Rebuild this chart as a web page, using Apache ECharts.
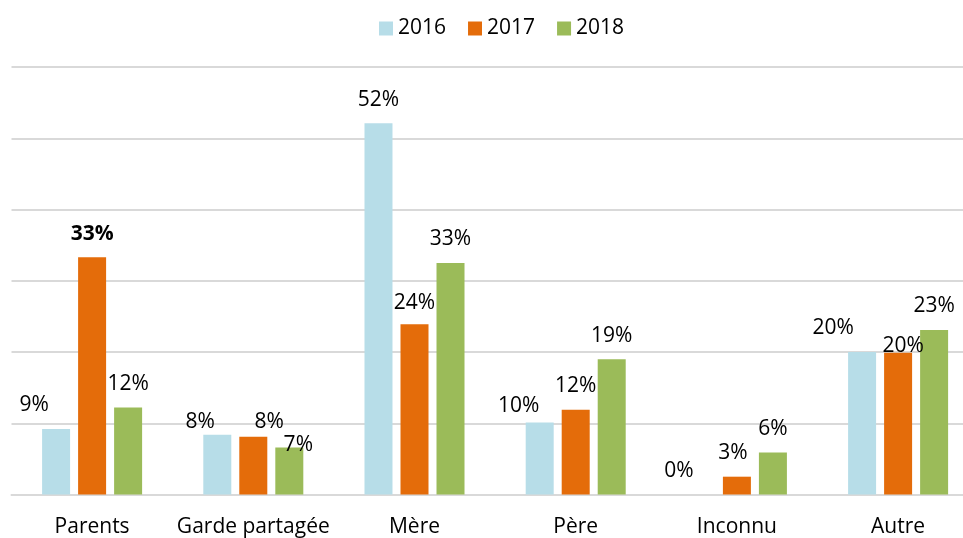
<!DOCTYPE html>
<html>
<head>
<meta charset="utf-8">
<title>Résidence</title>
<script src="https://cdn.jsdelivr.net/npm/echarts@6/dist/echarts.min.js"></script>
<style>
  html, body { margin: 0; padding: 0; background: #fff; }
  #chart { width: 963px; height: 538px; }
</style>
</head>
<body>
<div id="chart"></div>
<script>
// données (en %)
const categories = ['Parents', 'Garde partagée', 'Mère', 'Père', 'Inconnu', 'Autre']
const years = ['2016', '2017', '2018']
const values2016 = [9.2, 8.4, 52.1, 10.1, 0, 20.0]
const values2017 = [33.3, 8.1, 23.9, 11.9, 2.5, 19.9]
const values2018 = [12.2, 6.6, 32.5, 19.0, 5.9, 23.1]

const colors = ['#b7dde8', '#e46c0a', '#9bbb59']
const font = '"Open Sans", sans-serif'

// étiquettes déplacées à la main dans l'original : [serie, index, dx, dy]
const labelNudge = [
  [0, 0, -22, 0],
  [0, 1, -17, 11],
  [1, 1, 16, 9],
  [2, 1, 9, 21],
  [1, 2, 0, 2],
  [0, 3, -21, 7],
  [0, 4, -22, 0],
  [1, 4, -4, 0],
  [0, 5, -29, 0],
  [1, 5, 5, 17]
]
const boldLabels = [[1, 0]]

function buildData(values, s) {
  return values.map(function (v, i) {
    const item = { value: v }
    const label = {}
    labelNudge.forEach(function (n) {
      if (n[0] === s && n[1] === i) label.offset = [n[2], n[3]]
    })
    boldLabels.forEach(function (b) {
      if (b[0] === s && b[1] === i) label.fontWeight = 'bold'
    })
    item.label = label
    return item
  })
}

const chart = echarts.init(document.getElementById('chart'))
chart.setOption({
  animation: false,
  color: colors,
  textStyle: { fontFamily: font },
  legend: {
    data: years,
    left: 379,
    top: 18,
    padding: 0,
    itemWidth: 14,
    itemHeight: 14,
    itemGap: 22,
    icon: 'rect',
    selectedMode: false,
    textStyle: { color: '#000', fontSize: 21, fontFamily: font }
  },
  grid: {
    left: 11.5,
    top: 67,
    width: 967.2,
    height: 427.5,
    outerBoundsMode: 'none'
  },
  xAxis: {
    type: 'category',
    data: categories,
    axisTick: { show: false },
    axisLine: { show: true, lineStyle: { color: '#d9d9d9', width: 2 } },
    axisLabel: { color: '#000', fontSize: 21, fontFamily: font, margin: 22, interval: 0 }
  },
  yAxis: {
    type: 'value',
    min: 0,
    max: 60,
    interval: 10,
    axisLabel: { show: false },
    axisLine: { show: false },
    axisTick: { show: false },
    splitLine: { lineStyle: { color: '#d9d9d9', width: 2 } }
  },
  series: [values2016, values2017, values2018].map(function (vals, s) {
    return {
      name: years[s],
      type: 'bar',
      barWidth: 28,
      barGap: '28.6%',
      data: buildData(vals, s),
      label: {
        show: true,
        position: 'top',
        distance: 13,
        color: '#000',
        fontSize: 21,
        fontFamily: font,
        formatter: function (p) { return Math.round(p.value) + '%' }
      }
    }
  })
})
</script>
</body>
</html>
